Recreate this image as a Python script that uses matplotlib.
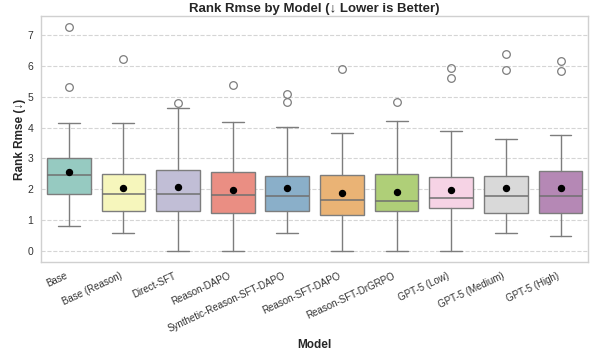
import matplotlib
matplotlib.use("Agg")
import matplotlib.pyplot as plt
import seaborn as sns

# per-model box summary of rank RMSE
models = ["Base", "Base (Reason)", "Direct-SFT", "Reason-DAPO",
          "Synthetic-Reason-SFT-DAPO", "Reason-SFT-DAPO", "Reason-SFT-DrGRPO",
          "GPT-5 (Low)", "GPT-5 (Medium)", "GPT-5 (High)"]
q1 = [1.86, 1.28, 1.28, 1.22, 1.28, 1.15, 1.28, 1.39, 1.22, 1.24]
median = [2.45, 1.86, 1.86, 1.81, 1.78, 1.65, 1.61, 1.72, 1.78, 1.78]
q3 = [3.01, 2.51, 2.64, 2.56, 2.44, 2.46, 2.48, 2.39, 2.44, 2.59]
whis_lo = [0.81, 0.57, 0.0, 0.0, 0.57, 0.0, 0.0, 0.0, 0.57, 0.49]
whis_hi = [4.16, 4.14, 4.63, 4.19, 4.01, 3.82, 4.20, 3.88, 3.62, 3.77]
means = [2.57, 2.03, 2.06, 1.99, 2.05, 1.89, 1.90, 1.97, 2.03, 2.04]
outliers = [[7.26, 5.32], [6.23], [4.80], [5.38], [5.08, 4.82], [5.90],
            [4.82], [5.93, 5.60], [6.37, 5.86], [6.17, 5.82]]

sns.set_style("whitegrid")
plt.rcParams["font.family"] = ["Liberation Sans", "DejaVu Sans"]

stats = []
for i, m in enumerate(models):
    stats.append(dict(label=m, q1=q1[i], med=median[i], q3=q3[i],
                      whislo=whis_lo[i], whishi=whis_hi[i],
                      mean=means[i], fliers=outliers[i]))

colors = [sns.desaturate(c, 0.75) for c in sns.color_palette("Set3", len(models))]

fig, ax = plt.subplots(figsize=(5.92, 3.51), dpi=100)
line_col = "#7d7d7d"
bp = ax.bxp(stats, positions=range(len(models)), widths=0.8, patch_artist=True,
            showmeans=True,
            boxprops=dict(edgecolor=line_col, linewidth=1.0),
            whiskerprops=dict(color=line_col, linewidth=1.0),
            capprops=dict(color=line_col, linewidth=1.0),
            medianprops=dict(color="#707070", linewidth=1.1),
            flierprops=dict(marker="o", markerfacecolor="none",
                            markeredgecolor=line_col, markersize=5.5,
                            markeredgewidth=0.9),
            meanprops=dict(marker="o", markerfacecolor="black",
                           markeredgecolor="black", markersize=4.3))
for patch, c in zip(bp["boxes"], colors):
    patch.set_facecolor(c)

ax.set_xlim(-0.5, len(models) - 0.5)
ax.set_ylim(-0.363, 7.62)
ax.set_xticks(range(len(models)))
ax.set_xticklabels(models, rotation=25, ha="right", fontsize=7, color="#333333")
ax.tick_params(axis="y", labelsize=7.5, colors="#333333", pad=6)
ax.tick_params(axis="x", pad=6)
ax.tick_params(axis="both", length=0)

ax.grid(axis="x", visible=False)
ax.grid(axis="y", linestyle="--", color="#d5d5d5", linewidth=0.8)
ax.set_axisbelow(True)
for s in ax.spines.values():
    s.set_color("#d0d0d0")
    s.set_linewidth(1.0)

ax.set_title("Rank Rmse by Model (↓ Lower is Better)", fontsize=9.5, fontweight="bold", pad=2.5)
ax.set_xlabel("Model", fontsize=8.5, fontweight="bold")
ax.set_ylabel("Rank Rmse (↓)", fontsize=8.5, fontweight="bold", labelpad=1)

fig.subplots_adjust(left=0.07, right=0.993, top=0.955, bottom=0.253)
fig.savefig("out.png", dpi=100)
